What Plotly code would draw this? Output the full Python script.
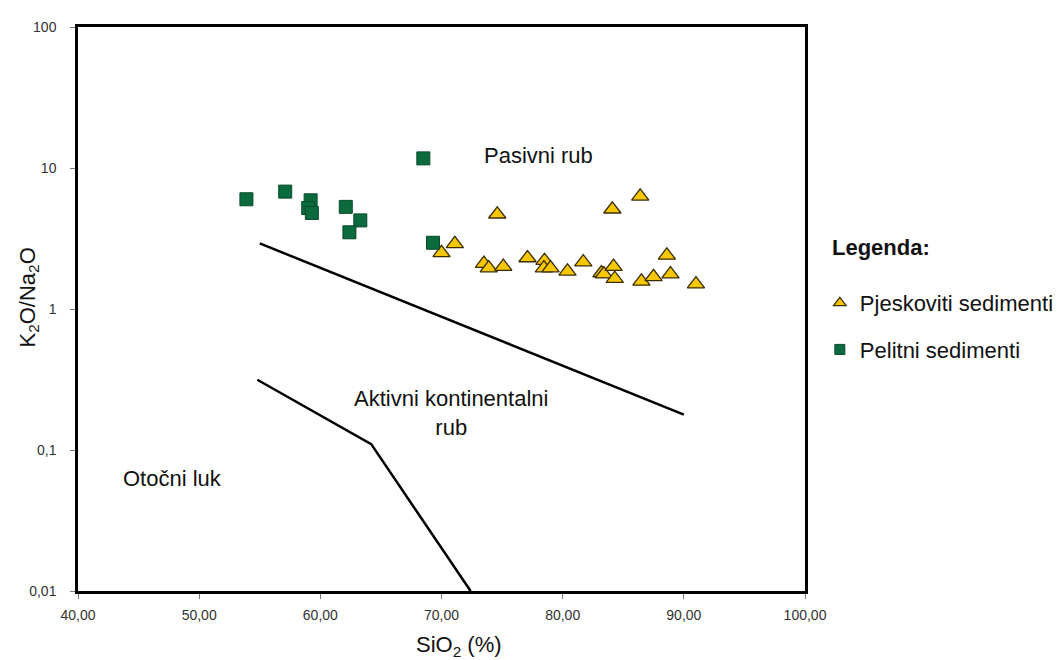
import plotly.graph_objects as go
import math

# Pelitni sedimenti (squares)
pel_sio2 = [53.9, 57.1, 59.2, 59.0, 59.3, 62.1, 63.3, 62.4, 68.5, 69.3]
pel_ratio = [6.0, 6.8, 5.9, 5.2, 4.8, 5.3, 4.25, 3.5, 11.7, 2.95]

# Pjeskoviti sedimenti (triangles)
pje_sio2 = [74.6, 84.1, 86.4, 71.1, 70.0, 73.5, 73.9, 75.1, 77.1, 78.5, 78.45, 79.0,
            80.4, 81.7, 83.2, 83.4, 84.2, 84.3, 88.6, 86.5, 87.5, 88.9, 91.0]
pje_ratio = [4.7, 5.1, 6.3, 2.9, 2.5, 2.1, 1.95, 2.0, 2.3, 2.2, 1.95, 1.95,
             1.85, 2.15, 1.8, 1.77, 2.0, 1.64, 2.4, 1.57, 1.69, 1.77, 1.5]

# Boundary lines
upper_x = [55.0, 90.0]
upper_y = [2.92, 0.178]
lower_x = [54.8, 64.2, 72.4]
lower_y = [0.315, 0.11, 0.01]

x_ticks = [40, 50, 60, 70, 80, 90, 100]
x_labels = ["40,00", "50,00", "60,00", "70,00", "80,00", "90,00", "100,00"]
y_ticks = [0.01, 0.1, 1, 10, 100]
y_labels = ["0,01", "0,1", "1", "10", "100"]

FONT = "Liberation Sans, Arial, sans-serif"
TRI = dict(fill="#f7c700", edge="#3b2c00")
SQ = dict(fill="#0b6b3d", edge="#084a2a")

fig = go.Figure()
fig.add_trace(go.Scatter(x=upper_x, y=upper_y, mode="lines",
                         line=dict(color="black", width=2.5), showlegend=False, hoverinfo="skip"))
fig.add_trace(go.Scatter(x=lower_x, y=lower_y, mode="lines",
                         line=dict(color="black", width=2.5), showlegend=False, hoverinfo="skip"))
fig.add_trace(go.Scatter(x=pje_sio2, y=pje_ratio, mode="markers", name="Pjeskoviti sedimenti",
                         showlegend=False,
                         marker=dict(symbol="triangle-up", size=15, color=TRI["fill"],
                                     line=dict(color=TRI["edge"], width=1.3))))
fig.add_trace(go.Scatter(x=pel_sio2, y=pel_ratio, mode="markers", name="Pelitni sedimenti",
                         showlegend=False,
                         marker=dict(symbol="square", size=13, color=SQ["fill"],
                                     line=dict(color=SQ["edge"], width=1))))
# legend entries (smaller symbols, as in the reference legend)
fig.add_trace(go.Scatter(x=[None], y=[None], mode="markers", name="Pjeskoviti sedimenti",
                         legendgroup="a",
                         marker=dict(symbol="triangle-up", size=11, color=TRI["fill"],
                                     line=dict(color=TRI["edge"], width=1.2))))
fig.add_trace(go.Scatter(x=[None], y=[None], mode="markers", name="Pelitni sedimenti",
                         legendgroup="b",
                         marker=dict(symbol="square", size=10, color=SQ["fill"],
                                     line=dict(color=SQ["edge"], width=1))))

ann_font = dict(family=FONT, size=22, color="#111111")
fig.add_annotation(x=78.0, y=math.log10(12.2), text="Pasivni rub", showarrow=False, font=ann_font)
fig.add_annotation(x=70.8, y=math.log10(0.183), text="Aktivni kontinentalni<br>rub", showarrow=False,
                   font=ann_font)
fig.add_annotation(x=47.8, y=math.log10(0.0633), text="Otočni luk", showarrow=False, font=ann_font)

# axis titles
fig.add_annotation(xref="paper", yref="paper", x=(455 - 70) / 735, y=1 - (638 - 19) / 564,
                   xanchor="center", yanchor="middle",
                   text="SiO<sub>2</sub> (%)", showarrow=False, font=ann_font)
fig.add_annotation(xref="paper", yref="paper", x=(20 - 70) / 735, y=1 - (290 - 19) / 564,
                   xanchor="center", yanchor="middle",
                   text="K<sub>2</sub>O/Na<sub>2</sub>O", textangle=-90, showarrow=False, font=ann_font)
# legend title
fig.add_annotation(xref="paper", yref="paper", x=(830 - 70) / 735, y=1 - (239 - 19) / 564,
                   xanchor="left", yanchor="middle", text="<b>Legenda:</b>", showarrow=False, font=ann_font)

fig.update_layout(
    width=1063, height=660,
    margin=dict(l=70, r=258, t=19, b=77),
    paper_bgcolor="white", plot_bgcolor="white",
    font=dict(family=FONT, color="#333333"),
    showlegend=True,
    legend=dict(x=(820 - 70) / 735, y=1 - (274 - 19) / 564, xanchor="left", yanchor="top",
                font=dict(family=FONT, size=22, color="#111111"),
                tracegroupgap=15, itemwidth=30, bgcolor="rgba(0,0,0,0)"),
    xaxis=dict(range=[40, 100], tickvals=x_ticks, ticktext=x_labels,
               showgrid=False, zeroline=False, showline=True, linecolor="black", linewidth=2.5,
               mirror=True, ticks="outside", ticklen=5, tickcolor="#777777",
               ticklabelstandoff=4,
               tickfont=dict(family=FONT, size=14, color="#333333")),
    yaxis=dict(type="log", range=[-2, 2], tickvals=y_ticks, ticktext=y_labels,
               showgrid=False, zeroline=False, showline=True, linecolor="black", linewidth=2.5,
               mirror=True, ticks="outside", ticklen=5, tickcolor="#777777",
               ticklabelstandoff=11,
               tickfont=dict(family=FONT, size=14, color="#333333")),
)

fig.write_html("out.html")
